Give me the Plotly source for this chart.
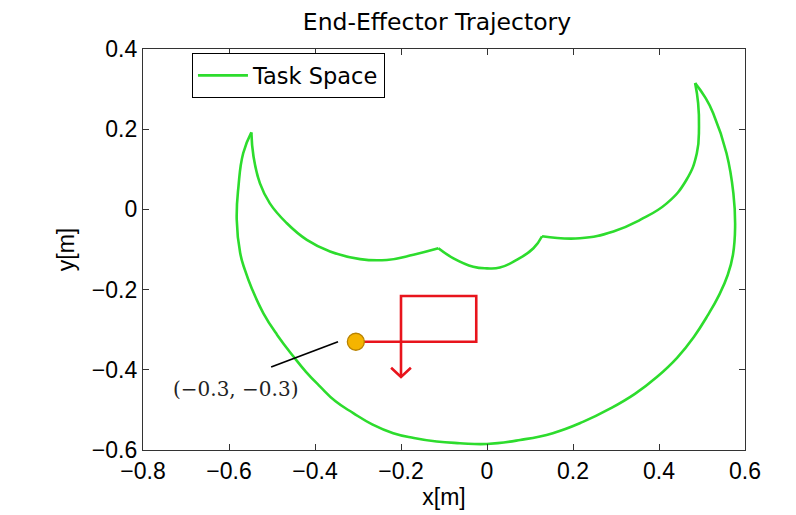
import plotly.graph_objects as go

# Green workspace boundary, digitised (x[m], y[m]); arcs split at cusps
ws_x = [-0.548, -0.543, -0.528, -0.505, -0.466, -0.419, -0.365, -0.295, -0.233, -0.171, -0.113,
        -0.078, -0.032, 0.000, 0.030, 0.069, 0.108, 0.128,
        0.216, 0.294, 0.356, 0.418, 0.464, 0.488, 0.493, 0.491, 0.484,
        0.507, 0.526, 0.557, 0.573, 0.577, 0.572, 0.560, 0.540, 0.514, 0.481, 0.442, 0.395, 0.344,
        0.286, 0.223, 0.153, 0.077, 0.000,
        -0.063, -0.117, -0.170, -0.218, -0.267, -0.311, -0.353, -0.388, -0.421, -0.450, -0.488,
        -0.520, -0.547, -0.563, -0.574, -0.582, -0.578, -0.567, -0.548]
ws_y = [0.192, 0.132, 0.065, 0.015, -0.034, -0.076, -0.105, -0.124, -0.126, -0.113, -0.097,
        -0.122, -0.143, -0.147, -0.145, -0.126, -0.097, -0.067,
        -0.072, -0.055, -0.026, 0.015, 0.074, 0.140, 0.206, 0.265, 0.315,
        0.280, 0.240, 0.140, 0.040, -0.044, -0.113, -0.163, -0.213, -0.263, -0.318, -0.370, -0.418, -0.460,
        -0.497, -0.530, -0.558, -0.575, -0.585,
        -0.583, -0.579, -0.570, -0.558, -0.536, -0.508, -0.478, -0.442, -0.405, -0.367, -0.313,
        -0.259, -0.197, -0.151, -0.109, -0.026, 0.057, 0.140, 0.192]
cusp_idx = [0, 10, 17, 26, 63]

# Red commanded path and arrowhead
path_x = [-0.305, -0.025, -0.025, -0.200, -0.200]
path_y = [-0.330, -0.330, -0.216, -0.216, -0.418]
head_x = [-0.223, -0.200, -0.177]
head_y = [-0.395, -0.418, -0.395]

# Start point and its label
start_x = [-0.305]
start_y = [-0.330]
leader_x = [-0.3465, -0.502]
leader_y = [-0.330, -0.393]
label_text = "(−0.3, −0.3)"
label_pos = (-0.584, -0.448)

x_ticks = [-0.8, -0.6, -0.4, -0.2, 0, 0.2, 0.4, 0.6]
x_tick_text = ["−0.8", "−0.6", "−0.4", "−0.2", "0", "0.2", "0.4", "0.6"]
y_ticks = [-0.6, -0.4, -0.2, 0, 0.2, 0.4]
y_tick_text = ["−0.6", "−0.4", "−0.2", "0", "0.2", "0.4"]

GREEN = "#2ddc2d"
RED = "#e8141c"
FONT = "Liberation Sans"

fig = go.Figure()
for k in range(len(cusp_idx) - 1):
    a, b = cusp_idx[k], cusp_idx[k + 1] + 1
    fig.add_trace(go.Scatter(
        x=ws_x[a:b], y=ws_y[a:b], mode="lines", name="Task Space",
        line=dict(color=GREEN, width=2.6, shape="spline", smoothing=1.3, simplify=False),
        legendgroup="ws", showlegend=(k == 0)))

fig.add_trace(go.Scatter(x=path_x, y=path_y, mode="lines", line=dict(color=RED, width=2.6),
                         showlegend=False))
fig.add_trace(go.Scatter(x=head_x, y=head_y, mode="lines", line=dict(color=RED, width=2.6),
                         showlegend=False))
fig.add_trace(go.Scatter(x=leader_x, y=leader_y, mode="lines", line=dict(color="black", width=1.8),
                         showlegend=False))
fig.add_trace(go.Scatter(x=start_x, y=start_y, mode="markers",
                         marker=dict(size=17, color="#f5b400", line=dict(color="#b98300", width=1.3)),
                         showlegend=False))

fig.add_annotation(x=label_pos[0], y=label_pos[1], text=label_text, showarrow=False,
                   font=dict(family="DejaVu Serif", size=20, color="#222222"))

axis_common = dict(showline=True, linecolor="#333333", linewidth=1.3, mirror="ticks",
                   ticks="inside", ticklen=6, tickcolor="#333333", tickwidth=1.3,
                   showgrid=False, zeroline=False,
                   tickfont=dict(family=FONT, size=23, color="black"))

fig.update_layout(
    width=796, height=515,
    margin=dict(l=143, r=51, t=49, b=65),
    paper_bgcolor="white", plot_bgcolor="white",
    title=dict(text="End-Effector Trajectory", x=0.549, xanchor="center", y=0.957, yanchor="middle",
               font=dict(family="DejaVu Sans", size=23.5, color="black")),
    xaxis=dict(range=[-0.8, 0.6], tickvals=x_ticks, ticktext=x_tick_text,
               title=dict(text="x[m]", standoff=4, font=dict(family=FONT, size=23, color="black")),
               **axis_common),
    yaxis=dict(range=[-0.6, 0.4], tickvals=y_ticks, ticktext=y_tick_text,
               title=dict(text="y[m]", standoff=10, font=dict(family=FONT, size=23, color="black")),
               **axis_common),
    legend=dict(x=0.081, y=0.99, xanchor="left", yanchor="top", bordercolor="black", borderwidth=1.2,
                bgcolor="white", itemwidth=50, font=dict(family="DejaVu Sans", size=22.5, color="black")),
)

fig.write_html("out.html")
